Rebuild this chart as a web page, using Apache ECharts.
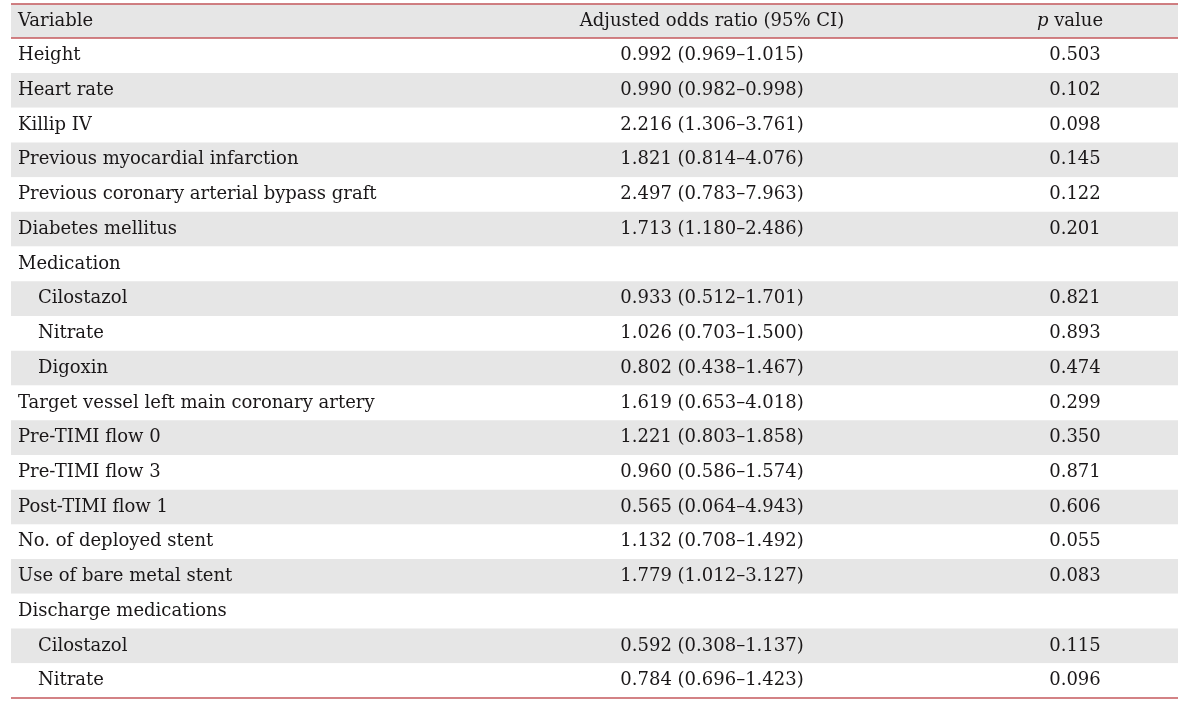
<!DOCTYPE html>
<html>
<head>
<meta charset="utf-8">
<script src="https://cdn.jsdelivr.net/npm/echarts@6/dist/echarts.min.js"></script>
<style>
  html, body { margin: 0; padding: 0; background: #fff; }
  #table { width: 1200px; height: 701px; }
</style>
</head>
<body>
<div id="table"></div>
<script>
var myChart = echarts.init(document.getElementById('table'));

// 表格数据
var variables = ['Height', 'Heart rate', 'Killip IV', 'Previous myocardial infarction',
    'Previous coronary arterial bypass graft', 'Diabetes mellitus', 'Medication',
    'Cilostazol', 'Nitrate', 'Digoxin', 'Target vessel left main coronary artery',
    'Pre-TIMI flow 0', 'Pre-TIMI flow 3', 'Post-TIMI flow 1', 'No. of deployed stent',
    'Use of bare metal stent', 'Discharge medications', 'Cilostazol', 'Nitrate'];
var indent = [0, 0, 0, 0, 0, 0, 0, 1, 1, 1, 0, 0, 0, 0, 0, 0, 0, 1, 1];
var oddsRatio = ['0.992 (0.969–1.015)', '0.990 (0.982–0.998)', '2.216 (1.306–3.761)',
    '1.821 (0.814–4.076)', '2.497 (0.783–7.963)', '1.713 (1.180–2.486)', '',
    '0.933 (0.512–1.701)', '1.026 (0.703–1.500)', '0.802 (0.438–1.467)',
    '1.619 (0.653–4.018)', '1.221 (0.803–1.858)', '0.960 (0.586–1.574)',
    '0.565 (0.064–4.943)', '1.132 (0.708–1.492)', '1.779 (1.012–3.127)', '',
    '0.592 (0.308–1.137)', '0.784 (0.696–1.423)'];
var pValues = ['0.503', '0.102', '0.098', '0.145', '0.122', '0.201', '',
    '0.821', '0.893', '0.474', '0.299', '0.350', '0.871', '0.606', '0.055',
    '0.083', '', '0.115', '0.096'];
var headers = ['Variable', 'Adjusted odds ratio (95% CI)', 'p value'];

var font = 'DejaVu Serif';
var fontSize = 18;
var textColor = '#1a1718';
var red = '#c4585c';
var nRows = variables.length + 1;

// 列位置（网格内的像素）
var colVar = 7, colIndent = 27, colOr = 701, colP = 1064, colPHead = 1059;

function textSeries(name, data, align) {
    return {
        name: name,
        type: 'scatter',
        symbolSize: 0,
        silent: true,
        itemStyle: { color: 'rgba(0,0,0,0)', opacity: 1 },
        label: {
            show: true,
            position: 'inside',
            align: align,
            verticalAlign: 'middle',
            fontFamily: font,
            fontSize: fontSize,
            color: textColor,
            opacity: 1,
            textBorderWidth: 0,
            formatter: function (p) { return p.data[2]; },
            rich: {
                i: { fontFamily: font, fontSize: fontSize, fontStyle: 'italic', color: textColor, textBorderWidth: 0 }
            }
        },
        data: data
    };
}

var varData = [[colVar, 0.5, headers[0]]];
var orData = [[colOr, 0.5, headers[1]]];
var pData = [[colPHead, 0.5, '{i|p} value']];
variables.forEach(function (v, i) {
    varData.push([indent[i] ? colIndent : colVar, i + 1.5, v]);
    if (oddsRatio[i]) orData.push([colOr, i + 1.5, oddsRatio[i]]);
    if (pValues[i]) pData.push([colP, i + 1.5, pValues[i]]);
});

var varSeries = textSeries('variable', varData, 'left');
varSeries.markLine = {
    silent: true,
    symbol: 'none',
    label: { show: false },
    lineStyle: { color: red, type: 'solid', width: 1.5 },
    data: [{ yAxis: 0 }, { yAxis: 1 }, { yAxis: nRows }]
};

var option = {
    animation: false,
    grid: { left: 11, right: 22, top: 3.5, bottom: 3 },
    xAxis: {
        type: 'value', min: 0, max: 1167,
        show: false
    },
    yAxis: {
        type: 'value', min: 0, max: nRows, interval: 1, inverse: true,
        axisLine: { show: false },
        axisTick: { show: false },
        axisLabel: { show: false },
        splitLine: { show: false },
        splitArea: {
            show: true,
            areaStyle: { color: ['#e6e6e6', '#ffffff'] }
        }
    },
    series: [
        varSeries,
        textSeries('odds', orData, 'center'),
        textSeries('p', pData, 'center')
    ]
};

myChart.setOption(option);
</script>
</body>
</html>
